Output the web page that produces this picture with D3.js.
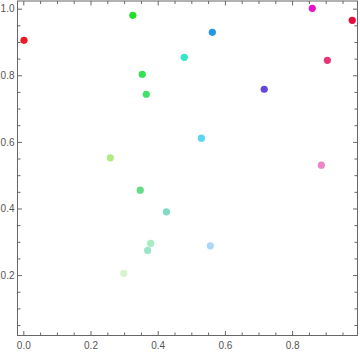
<!DOCTYPE html>
<html>
<head>
<meta charset="utf-8">
<script src="https://cdn.jsdelivr.net/npm/d3@7"></script>
<style>
html,body{margin:0;padding:0;background:#fff;}
svg{display:block;}
</style>
</head>
<body>
<svg id="chart" width="360" height="353"></svg>
<script>
// Data
const xs = [0.002, 0.326, 0.354, 0.366, 0.259, 0.348, 0.426, 0.379, 0.370, 0.299, 0.5625, 0.479, 0.860, 0.979, 0.905, 0.717, 0.530, 0.887, 0.5565];
const ys = [0.905, 0.980, 0.803, 0.743, 0.552, 0.455, 0.390, 0.295, 0.274, 0.205, 0.929, 0.854, 1.001, 0.965, 0.845, 0.758, 0.611, 0.530, 0.288];
const colors = ["#eb1a24", "#22dd2a", "#32e153", "#3fe26a", "#aeeb86", "#66dc86", "#7fdcc4", "#a6ecc2", "#99e6c8", "#d9f4cd",
                "#2096e4", "#36e6c8", "#e414c8", "#e60a3e", "#e63678", "#6446dc", "#5ad6f0", "#ea86c6", "#acd8f4"];
const xTicks = d3.range(0, 20).map(i => i * 0.05);
const yTicks = d3.range(1, 21).map(i => i * 0.05);
const xLabels = [0, 0.2, 0.4, 0.6, 0.8];
const yLabels = [0.2, 0.4, 0.6, 0.8, 1.0];

const svg = d3.select("#chart");
const L = 17.5, R = 357.5, T = 1, B = 335.5;
const x = d3.scaleLinear().domain([-0.0173, 0.9946]).range([L, R]);
const y = d3.scaleLinear().domain([0.0186, 1.023]).range([B, T]);

const isMajor = (d, labels) => labels.some(v => Math.abs(v - d) < 1e-6);
const fmt = d3.format(".1f");
const axisColor = "#666";
const textColor = "#555";
const font = "Liberation Sans, Arial, sans-serif";

function style(g, labels, dir) {
  g.select(".domain").remove();
  g.selectAll(".tick line").attr("stroke", axisColor)
    .each(function(d) {
      const len = isMajor(d, labels) ? 4.5 : 3;
      const el = d3.select(this);
      if (dir === "bottom") el.attr("y2", -len);
      if (dir === "top") el.attr("y2", len);
      if (dir === "left") el.attr("x2", len);
      if (dir === "right") el.attr("x2", -len);
    });
  g.selectAll(".tick text").attr("fill", textColor).style("font-family", font).style("font-size", "10px");
}

svg.append("g").attr("transform", `translate(0,${B})`)
  .call(d3.axisBottom(x).tickValues(xTicks).tickSize(0).tickPadding(6.5)
    .tickFormat(d => isMajor(d, xLabels) ? fmt(d) : ""))
  .call(g => style(g, xLabels, "bottom"));
svg.append("g").attr("transform", `translate(0,${T})`)
  .call(d3.axisTop(x).tickValues(xTicks).tickSize(0).tickFormat(""))
  .call(g => style(g, xLabels, "top"));
svg.append("g").attr("transform", `translate(${L},0)`)
  .call(d3.axisLeft(y).tickValues(yTicks).tickSize(0).tickPadding(3)
    .tickFormat(d => isMajor(d, yLabels) ? fmt(d) : ""))
  .call(g => style(g, yLabels, "left"));
svg.append("g").attr("transform", `translate(${R},0)`)
  .call(d3.axisRight(y).tickValues(yTicks).tickSize(0).tickFormat(""))
  .call(g => style(g, yLabels, "right"));

svg.append("rect").attr("x", L).attr("y", T).attr("width", R - L).attr("height", B - T)
  .attr("fill", "none").attr("stroke", axisColor).attr("stroke-width", 1);

svg.append("g").selectAll("circle").data(xs.map((v, i) => i)).join("circle")
  .attr("cx", i => x(xs[i])).attr("cy", i => y(ys[i])).attr("r", 3.6)
  .attr("fill", i => colors[i]);
</script>
</body>
</html>
